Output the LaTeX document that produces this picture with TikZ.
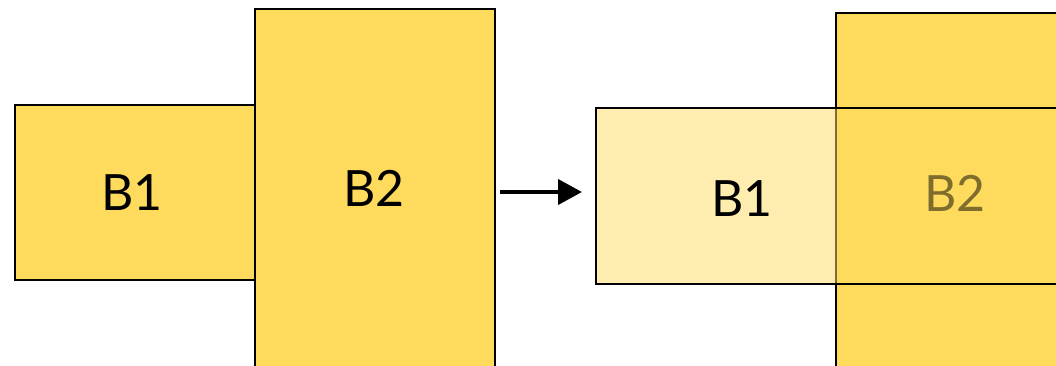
\documentclass[tikz,border=0pt]{standalone}
\usepackage{fontspec}
\setmainfont{Lato}
\usetikzlibrary{arrows.meta}
\definecolor{boxyellow}{HTML}{FEDB5D}
\begin{document}
\begin{tikzpicture}[x=1pt,y=-1pt,
  blockbox/.style={draw=black,line width=2pt,fill=boxyellow,rectangle,inner sep=0pt,anchor=north west},
  blocklabel/.style={font=\fontsize{50}{50}\selectfont,inner sep=0pt}]
\useasboundingbox (0,0) rectangle (1056,365);
\clip (0,0) rectangle (1056,365);
% before: B1 beside B2
\node[blockbox,minimum width=240pt,minimum height=175pt] (b1l) at (14,104) {};
\node[blockbox,minimum width=240pt,minimum height=380pt] (b2l) at (254,8) {};
\node[blocklabel] (t1l) at (132,193) {B1};
\node[blocklabel] (t2l) at (374,188) {B2};
% after: B1 slid over B2
\node[blockbox,minimum width=240pt,minimum height=380pt] (b2r) at (835,12) {};
\node[blocklabel] (t2r) at (955,193) {B2};
\node[blockbox,fill opacity=0.5,minimum width=500pt,minimum height=176pt] (b1r) at (595,107) {};
\node[blocklabel] (t1r) at (742,199) {B1};
% transition arrow
\draw[line width=4pt,-{Triangle[length=24pt,width=25pt]},shorten <=4pt,shorten >=13pt]
  (b2l.east |- 0,192) -- (b1r.west |- 0,192);
\end{tikzpicture}
\end{document}
